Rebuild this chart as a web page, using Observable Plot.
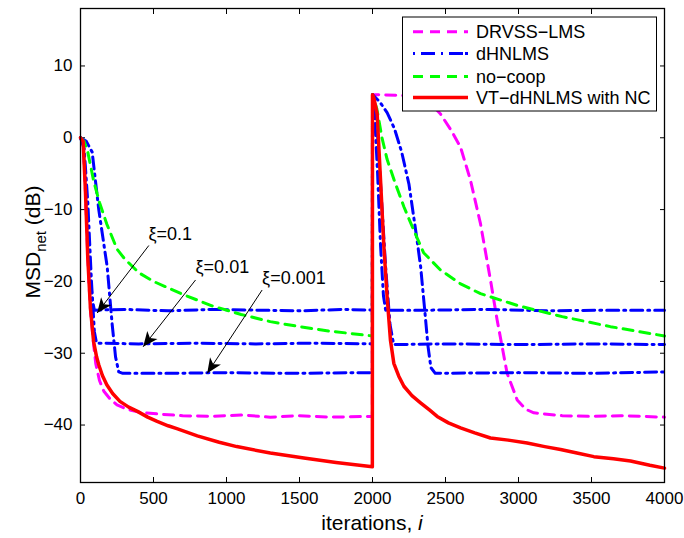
<!DOCTYPE html>
<html><head><meta charset="utf-8">
<script src="https://cdn.jsdelivr.net/npm/d3@7"></script>
<script src="https://cdn.jsdelivr.net/npm/@observablehq/plot@0.6"></script>
<style>
body{margin:0;background:#fff}
#chart svg{font-family:"Liberation Sans",Arial,Helvetica,sans-serif;}
</style>
</head><body><div id="chart"></div>
<script>
// ---- data (iteration, MSD dB) ----
const xTicks = [0, 500, 1000, 1500, 2000, 2500, 3000, 3500, 4000];
const yTicks = [-40, -30, -20, -10, 0, 10];
const legendNames = ["DRVSS\u2212LMS", "dHNLMS", "no\u2212coop", "VT\u2212dHNLMS with NC"];
const legendColors = ["#ff00ff", "#0000ff", "#00ff00", "#ff0000"];

const drvss = [[0,0],[18,-0.5],[34,-7.5],[50,-16.5],[60,-21],[70,-24.5],[90,-28.8],[105,-31.5],[130,-33.8],[160,-35.3],[200,-36.3],[250,-37.2],[320,-37.8],[400,-38.2],[550,-38.5],[700,-38.7],[900,-38.8],[1100,-38.6],[1300,-38.9],[1500,-38.7],[1700,-38.9],[1999,-38.8],
  [2000,6],[2200,5.9],[2350,5.3],[2420,4.3],[2466,3.3],[2540,1],[2603,-1.3],[2671,-5.9],[2740,-12],[2808,-19.8],[2854,-25.4],[2922,-32.8],[2991,-36.5],[3050,-37.8],[3105,-38.3],[3300,-38.7],[3500,-38.8],[3700,-38.7],[4000,-38.9]];

const hn01 = [[0,0],[20,-1],[40,-8],[60,-17],[80,-22.5],[95,-24],[300,-23.9],[600,-24.1],[900,-23.9],[1200,-24],[1500,-24.1],[1800,-23.9],[1999,-24],
  [2000,6],[2015,3],[2035,-5],[2055,-15],[2075,-22],[2090,-24],[2400,-24],[2800,-23.9],[3200,-24.1],[3600,-24],[4000,-24]];
const hn001 = [[0,0],[25,-1.5],[50,-9],[75,-20],[95,-27],[110,-28.6],[400,-28.7],[800,-28.6],[1200,-28.7],[1600,-28.6],[1999,-28.7],
  [2000,6],[2030,2],[2060,-8],[2090,-18],[2120,-26],[2145,-28.8],[2500,-28.7],[3000,-28.8],[3500,-28.7],[4000,-28.8]];
const hn0001 = [[0,0],[40,-0.5],[80,-2],[125,-10],[183,-18],[217,-26],[240,-30.5],[262,-32.6],[290,-32.8],[600,-32.8],[1000,-32.7],[1400,-32.8],[1999,-32.7],
  [2000,6],[2050,5],[2100,3.5],[2150,1.3],[2200,-2],[2250,-6.5],[2300,-13.5],[2330,-18],[2360,-24.5],[2380,-29],[2400,-32],[2430,-32.8],[3000,-32.7],[3500,-32.8],[4000,-32.6]];

const nocoop = [[0,0],[25,-0.5],[50,-2],[90,-6],[130,-9],[180,-12],[250,-15.5],[300,-16.8],[400,-18.8],[500,-20],[700,-21.8],[900,-23.4],[1100,-24.6],[1300,-25.6],[1500,-26.3],[1700,-26.9],[1999,-27.6],
  [2000,6],[2030,4],[2065,0],[2100,-3],[2150,-6],[2215,-9.6],[2285,-13],[2350,-16],[2465,-18.4],[2600,-20.3],[2740,-21.7],[3000,-23.4],[3300,-24.9],[3630,-26.3],[4000,-27.6]];

const vtnc = [[0,0],[18,-0.5],[34,-7.5],[50,-16.8],[68,-23.7],[90,-28.4],[110,-30.5],[125,-31.6],[150,-33.1],[180,-34.4],[220,-35.6],[270,-36.7],[330,-37.5],[390,-38.1],[460,-38.9],[525,-39.5],[600,-40.1],[660,-40.5],[800,-41.5],[950,-42.4],[1070,-43],[1300,-43.9],[1530,-44.6],[1750,-45.2],[1999,-45.8],
  [2000,6],[2010,5.5],[2032,3.3],[2055,-5.9],[2078,-15.2],[2100,-22.1],[2123,-28.2],[2146,-31.4],[2180,-33.2],[2215,-34.6],[2270,-35.9],[2329,-36.9],[2390,-37.9],[2443,-38.8],[2520,-39.7],[2603,-40.4],[2700,-41.1],[2808,-41.8],[2930,-42.1],[3059,-42.5],[3180,-43],[3288,-43.4],[3400,-43.9],[3516,-44.4],[3650,-44.7],[3767,-45],[3900,-45.6],[4000,-46]];

const annLabels = ["\u03be=0.1", "\u03be=0.01", "\u03be=0.001"];
const annTextX = [466, 788, 1244];
const annTextY = [-13.4, -18.0, -19.6];
const annFromX = [468, 788, 1244];
const annFromY = [-15.0, -19.8, -21.2];
const annToX = [114, 429, 868];
const annToY = [-24.4, -29.1, -32.8];

// ---- build tables ----
const toRows = (arr, k) => arr.map(([i, db]) => ({i, db, k}));
const blueRows = [...toRows(hn01, "0.1"), ...toRows(hn001, "0.01"), ...toRows(hn0001, "0.001")];
const ann = annLabels.map((label, j) => ({label, tx: annTextX[j], ty: annTextY[j], x1: annFromX[j], y1: annFromY[j], x2: annToX[j], y2: annToY[j]}));
const minus = d => d < 0 ? "\u2212" + Math.abs(d) : String(d);

const plot = Plot.plot({
  width: 684, height: 538,
  marginLeft: 80, marginRight: 20, marginTop: 8, marginBottom: 56,
  x: {domain: [0, 4000]},
  y: {domain: [-48, 18]},
  style: {fontFamily: '"Liberation Sans", Arial, sans-serif', fontSize: "17px", color: "black", background: "white"},
  marks: [
    Plot.axisX({anchor: "bottom", ticks: xTicks, tickSize: -5, tickPadding: 14, label: null, fontSize: 17, tickFormat: d => String(d)}),
    Plot.axisX({anchor: "top", ticks: xTicks, tickSize: -5, tickFormat: () => "", label: null}),
    Plot.axisY({anchor: "left", ticks: yTicks, tickSize: -5, tickPadding: 13, label: null, fontSize: 17, tickFormat: minus}),
    Plot.axisY({anchor: "right", ticks: yTicks, tickSize: -5, tickFormat: () => "", label: null}),
    Plot.line(toRows(drvss, "d"), {x: "i", y: "db", stroke: legendColors[0], strokeWidth: 3, strokeDasharray: "10,7"}),
    Plot.line(blueRows, {x: "i", y: "db", z: "k", stroke: legendColors[1], strokeWidth: 3, strokeDasharray: "12,5,2,5"}),
    Plot.line(toRows(nocoop, "n"), {x: "i", y: "db", stroke: legendColors[2], strokeWidth: 3, strokeDasharray: "10,7"}),
    Plot.line(toRows(vtnc, "v"), {x: "i", y: "db", stroke: legendColors[3], strokeWidth: 3.5}),
    Plot.link(ann, {x1: "x1", y1: "y1", x2: "x2", y2: "y2", stroke: "black", strokeWidth: 1, markerEnd: "arrow"}),
    Plot.text(ann, {x: "tx", y: "ty", text: "label", textAnchor: "start", fontSize: 18, fill: "black"}),
    Plot.frame({stroke: "black", strokeWidth: 1.3})
  ]
});
document.getElementById("chart").appendChild(plot);

const svg = d3.select(plot);
// filled arrowheads
svg.selectAll("marker").each(function() {
  const m = d3.select(this);
  m.attr("viewBox", "-16 -8 18 16").attr("markerWidth", 18).attr("markerHeight", 16)
   .attr("markerUnits", "userSpaceOnUse").attr("fill", "black").attr("stroke", "none");
  m.selectAll("*").remove();
  m.append("path").attr("d", "M0,0L-15,-6.5L-11,0L-15,6.5Z");
});

// axis titles
const yl = svg.append("text").attr("transform", "translate(40,242) rotate(-90)")
  .attr("text-anchor", "middle").attr("font-size", 21).attr("fill", "black");
yl.append("tspan").text("MSD");
yl.append("tspan").attr("font-size", 15).attr("dy", 6).text("net");
yl.append("tspan").attr("dy", -6).text(" (dB)");

const xl = svg.append("text").attr("x", 372).attr("y", 530).attr("text-anchor", "middle")
  .attr("font-size", 21).attr("fill", "black");
xl.append("tspan").text("iterations, ");
xl.append("tspan").attr("font-style", "italic").text("i");

// legend
const lg = svg.append("g");
lg.append("rect").attr("x", 402.5).attr("y", 17).attr("width", 254).attr("height", 94)
  .attr("fill", "white").attr("stroke", "black").attr("stroke-width", 1);
const rowsY = [31.7, 53.5, 76.5, 97.5];
const dashes = ["10,7", "2,6,14,6,2,6,14", "10,7", null];
legendNames.forEach((name, j) => {
  const ln = lg.append("line").attr("x1", 413).attr("x2", 468).attr("y1", rowsY[j]).attr("y2", rowsY[j])
    .attr("stroke", legendColors[j]).attr("stroke-width", j === 3 ? 3.5 : 3);
  if (dashes[j]) ln.attr("stroke-dasharray", dashes[j]);
  lg.append("text").attr("x", 476).attr("y", rowsY[j]).attr("dy", "0.35em").attr("text-anchor", "start")
    .attr("font-size", 18).attr("fill", "black").text(name);
});
</script>
</body></html>
